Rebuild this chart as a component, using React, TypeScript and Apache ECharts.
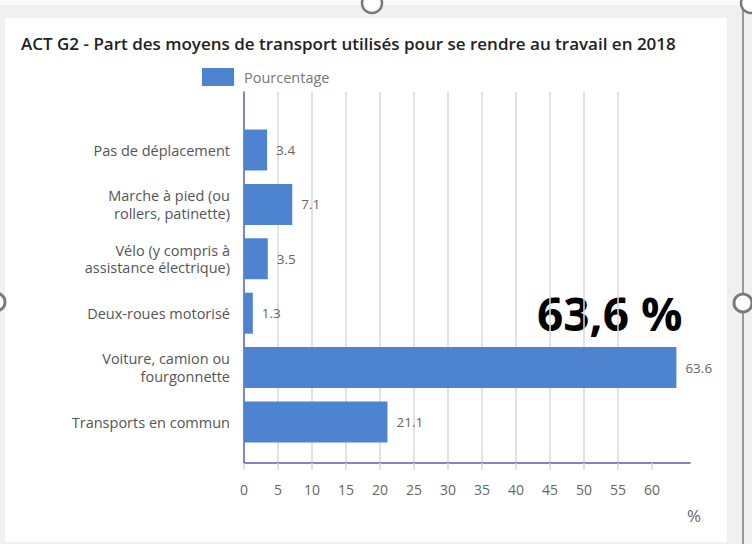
import React, { useEffect, useRef } from "react";
import * as echarts from "echarts";

const title = "ACT G2 - Part des moyens de transport utilisés pour se rendre au travail en 2018";
const seriesName = "Pourcentage";
const categories = [
  "Pas de déplacement",
  "Marche à pied (ou\nrollers, patinette)",
  "Vélo (y compris à\nassistance électrique)",
  "Deux-roues motorisé",
  "Voiture, camion ou\nfourgonnette",
  "Transports en commun",
];
const values = [3.4, 7.1, 3.5, 1.3, 63.6, 21.1];
const xTicks = [0, 5, 10, 15, 20, 25, 30, 35, 40, 45, 50, 55, 60];
const axisMax = 65.6;
const highlightText = "63,6 %";
const unitText = "%";

const FONT = "'Open Sans', 'Noto Sans', sans-serif";
const AXIS_COLOR = "#5a5ab4";
const BAR_COLOR = "#4e84cf";

export default function App() {
  const ref = useRef<HTMLDivElement>(null);
  useEffect(() => {
    if (!ref.current) return;
    const chart = echarts.init(ref.current, undefined, { renderer: "svg" });
    chart.setOption({
      animation: false,
      textStyle: { fontFamily: FONT },
      title: {
        text: title,
        left: 21,
        top: 35,
        padding: 0,
        textStyle: { fontFamily: FONT, fontSize: 17, fontWeight: 600, color: "#222" },
      },
      legend: {
        data: [seriesName],
        left: 202,
        top: 68,
        padding: 0,
        itemWidth: 32,
        itemHeight: 18,
        icon: "rect",
        textStyle: { fontFamily: FONT, fontSize: 14.5, color: "#777", padding: [0, 0, 0, 5] },
      },
      grid: [
        { left: 244, width: 446, top: 122.8, height: 326.4, containLabel: false },
        { left: 244, width: 446, top: 92, height: 371, containLabel: false },
      ],
      xAxis: [
        {
          gridIndex: 0,
          type: "value",
          min: 0,
          max: axisMax,
          show: false,
        },
        {
          gridIndex: 1,
          type: "value",
          min: 0,
          max: axisMax,
          interval: 5,
          axisLine: { show: true, lineStyle: { color: AXIS_COLOR, width: 1.5 } },
          axisTick: {
            show: true,
            length: 7,
            customValues: xTicks,
            lineStyle: { color: "#d6d6d6", width: 1.5 },
          },
          axisLabel: {
            customValues: xTicks,
            margin: 19,
            color: "#666",
            fontSize: 14,
            fontFamily: FONT,
          },
          splitLine: {
            show: true,
            showMaxLine: false,
            showMinLine: false,
            lineStyle: { color: "#d9d9d9", width: 1.5 },
          },
        },
      ],
      yAxis: [
        {
          gridIndex: 0,
          type: "category",
          data: categories,
          inverse: true,
          axisLine: { show: false },
          axisTick: { show: false },
          axisLabel: {
            margin: 14,
            color: "#555",
            fontSize: 14.5,
            lineHeight: 17.5,
            fontFamily: FONT,
            align: "right",
          },
        },
        {
          gridIndex: 1,
          type: "value",
          min: 0,
          max: 1,
          axisLine: { show: true, lineStyle: { color: AXIS_COLOR, width: 1.5 } },
          axisTick: { show: false },
          axisLabel: { show: false },
          splitLine: { show: false },
        },
      ],
      series: [
        {
          name: seriesName,
          type: "bar",
          xAxisIndex: 0,
          yAxisIndex: 0,
          data: values,
          barWidth: 41,
          itemStyle: { color: BAR_COLOR },
          label: {
            show: true,
            position: "right",
            distance: 9,
            color: "#666",
            fontSize: 13.5,
            fontFamily: FONT,
          },
        },
        {
          type: "scatter",
          xAxisIndex: 1,
          yAxisIndex: 1,
          data: [],
          silent: true,
        },
      ],
      graphic: [
        {
          type: "text",
          left: 537,
          top: 290,
          style: {
            text: highlightText,
            font: `bold 46px ${FONT}`,
            fill: "#000",
          },
        },
        {
          type: "text",
          left: 687,
          top: 507,
          style: { text: unitText, font: `17px ${FONT}`, fill: "#666" },
        },
        {
          type: "line",
          shape: { x1: 743, y1: 0, x2: 743, y2: 544 },
          style: { stroke: "#9a9a9a", lineWidth: 2 },
        },
        {
          type: "circle",
          shape: { cx: 372, cy: 3, r: 10 },
          style: { fill: "#fff", stroke: "#7a7a7a", lineWidth: 2.5 },
        },
        {
          type: "circle",
          shape: { cx: 751, cy: 3, r: 10 },
          style: { fill: "#fff", stroke: "#7a7a7a", lineWidth: 2.5 },
        },
        {
          type: "circle",
          shape: { cx: 743, cy: 303, r: 9 },
          style: { fill: "#fff", stroke: "#7a7a7a", lineWidth: 3 },
        },
        {
          type: "circle",
          shape: { cx: -4, cy: 302, r: 9 },
          style: { fill: "#fff", stroke: "#7a7a7a", lineWidth: 3 },
        },
      ],
    });
    return () => chart.dispose();
  }, []);

  return (
    <div
      style={{
        position: "fixed",
        left: 0,
        top: 0,
        width: 752,
        height: 544,
        background: "#f0f0f0",
        overflow: "hidden",
      }}
    >
      <div style={{ position: "absolute", left: 0, top: 0, width: 752, height: 5, background: "#fafafa" }} />
      <div style={{ position: "absolute", left: 5, top: 18, width: 722, height: 524, background: "#fff" }} />
      <div ref={ref} style={{ position: "absolute", left: 0, top: 0, width: 752, height: 544 }} />
    </div>
  );
}
